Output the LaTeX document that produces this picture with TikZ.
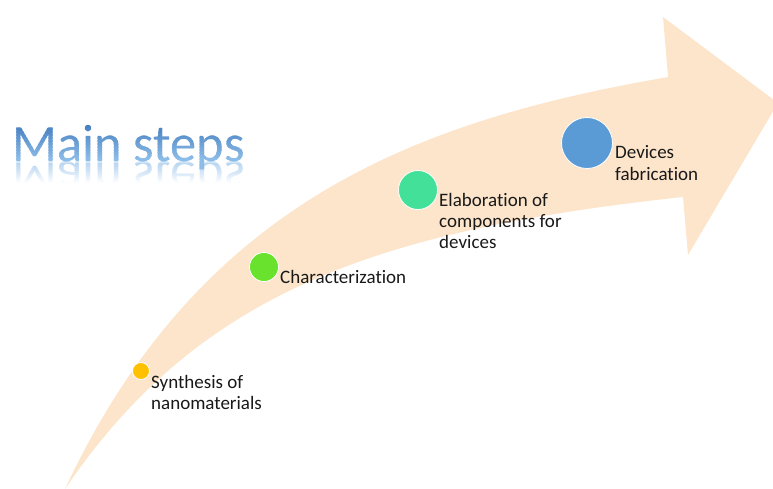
\documentclass[tikz,border=0pt]{standalone}
\usepackage{fontspec}
\setmainfont[Ligatures={NoCommon,NoContextual,NoRequired},Contextuals={NoAlternate}]{Carlito}
\definecolor{arrowfill}{RGB}{252,229,203}
\definecolor{titlelight}{RGB}{140,188,232}
\definecolor{titledark}{RGB}{60,118,186}
\definecolor{cyellow}{RGB}{255,192,0}
\definecolor{cgreen}{RGB}{104,226,44}
\definecolor{cteal}{RGB}{66,224,152}
\definecolor{cblue}{RGB}{91,155,213}
\definecolor{labeltext}{RGB}{25,25,25}
\tikzset{
  dot/.style={circle, draw=white, line width=0.8pt, inner sep=0pt},
  lbl/.style={font=\fontsize{19}{21.5}\selectfont, text=labeltext, inner sep=0pt, anchor=base west},
  titletext/.style={font=\fontsize{52.5}{60}\selectfont, inner sep=0pt, anchor=base west}
}
\newcommand{\lines}[1]{\begin{tabular}[t]{@{}l@{}}#1\end{tabular}}
\begin{document}
\begin{tikzpicture}[x=1pt,y=-1pt]
\useasboundingbox (0,0) rectangle (773,489);
\clip (0,0) rectangle (773,489);
% curved arrow
\fill[arrowfill] (65,489) .. controls (200,200) and (420,120) .. (668,77)
  -- (663,17) -- (778,103) -- (688,255) -- (683,197)
  .. controls (380,230) and (200,290) .. (65,489) -- cycle;
% title with vertical gradient (drawn in thin bands)
\foreach \i in {0,...,17}{
  \pgfmathsetmacro{\ya}{120+3*\i}
  \pgfmathsetmacro{\yb}{\ya+3.05}
  \pgfmathtruncatemacro{\pct}{max(0,100-\i*100/13)}
  \begin{scope}
    \clip (0,\ya) rectangle (300,\yb);
    \node[titletext, text=titledark!\pct!titlelight] (title\i) at (12,162) {Main steps};
  \end{scope}
}
% reflection
\foreach \i in {0,...,9}{
  \pgfmathsetmacro{\ya}{162+2*\i}
  \pgfmathsetmacro{\yb}{\ya+2.05}
  \pgfmathsetmacro{\op}{0.38*(1-\i/10)}
  \begin{scope}
    \clip (0,\ya) rectangle (300,\yb);
    \node[titletext, text=titlelight, opacity=\op] (refl\i) at (12,162) {\scalebox{1}[-1]{Main steps}};
  \end{scope}
}
% steps
\node[dot, fill=cyellow, minimum size=17pt] (s1) at (141,371) {};
\node[dot, fill=cgreen, minimum size=29pt] (s2) at (264,267) {};
\node[dot, fill=cteal, minimum size=39pt] (s3) at (418,190) {};
\node[dot, fill=cblue, minimum size=51pt] (s4) at (587,143) {};
\node[lbl] (l1) at (151,388) {\lines{Synthesis of\\nanomaterials}};
\node[lbl] (l2) at (280,283) {Characterization};
\node[lbl] (l3) at (439,206) {\lines{Elaboration of\\components for\\devices}};
\node[lbl] (l4) at (615,159) {\lines{Devices\\fabrication}};
\end{tikzpicture}
\end{document}
